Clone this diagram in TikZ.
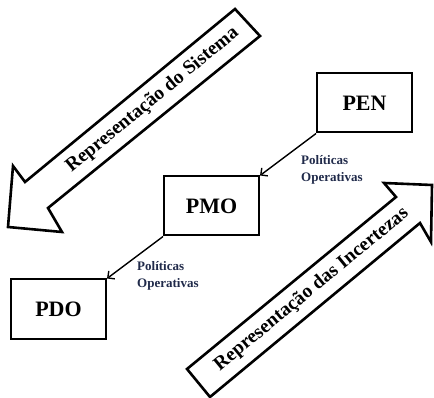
\documentclass[tikz,border=0pt]{standalone}
\usepackage{fontspec}
\setmainfont{Liberation Serif}
\usetikzlibrary{arrows.meta,positioning,calc}
\definecolor{navy}{RGB}{32,42,74}
\tikzset{
    plan/.style={
        draw,
        line width=2pt,
        minimum width=95pt,
        minimum height=59pt,
        font=\fontsize{22}{26}\selectfont\bfseries
    },
    bigarrow/.style={
        draw,
        line width=2.6pt,
        line join=miter,
        fill=white
    },
    arrowtxt/.style={
        font=\fontsize{19.5}{23}\selectfont\bfseries,
        rotate=39.5,
        inner sep=0pt
    },
    arrow/.style={
        -{Straight Barb[length=5pt,width=10pt]},
        line width=1.4pt
    },
    lbl/.style={
        font=\fontsize{13}{16.5}\selectfont\bfseries,
        text=navy,
        align=left,
        anchor=north west,
        inner sep=0pt
    }
}

\begin{document}
\begin{tikzpicture}[x=1pt,y=-1pt,node distance=42pt and 56pt]
\useasboundingbox (0,0) rectangle (434,398);
\clip (0,0) rectangle (434,398);

% big arrows
\draw[bigarrow] (235,9) -- (25,182) -- (13,166) -- (8,227) -- (62,232)
    -- (48,208) -- (260,36) -- cycle;
\coordinate (sysTail) at (247.5,22.5);
\coordinate (sysHead) at (36.5,195);
\node[arrowtxt] (sys) at ($(sysTail)!0.45!(sysHead)$) {Representação do Sistema};

\draw[bigarrow] (187,369) -- (396,197) -- (384,183) -- (432,185) -- (431,242)
    -- (420,223) -- (210,397) -- cycle;
\coordinate (incTail) at (198.5,383);
\coordinate (incHead) at (408,210);
\node[arrowtxt] (inc) at ($(incTail)!0.54!(incHead)$) {Representação das Incertezas};

% planning levels
\node[plan] (pen) at (364.5,103) {PEN};
\node[plan, below left=of pen] (pmo) {PMO};
\node[plan, below left=of pmo] (pdo) {PDO};

\draw[arrow] (pen.south west) -- (pmo.north east);
\draw[arrow] (pmo.south west) -- (pdo.north east);

\node[lbl] (pol1) at ($(pen.south west)+(-15,22)$) {Políticas\\Operativas};
\node[lbl] (pol2) at ($(pmo.south west)+(-26,25)$) {Políticas\\Operativas};

\end{tikzpicture}
\end{document}
